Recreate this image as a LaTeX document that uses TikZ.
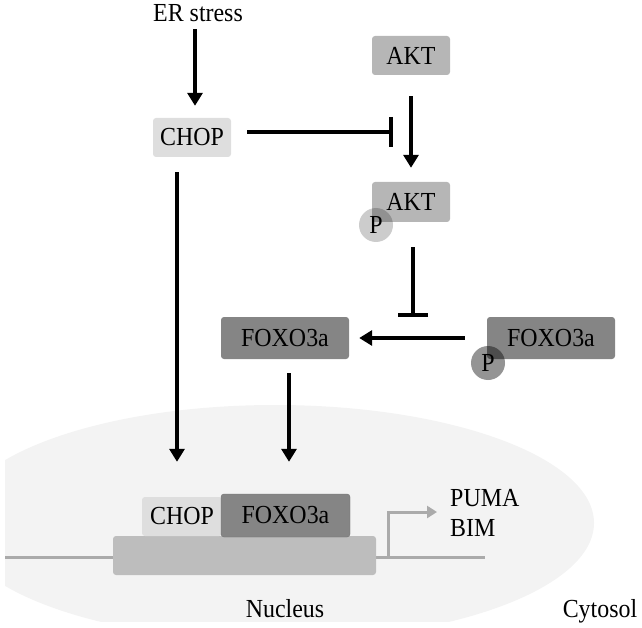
\documentclass[tikz,border=0pt]{standalone}
\usepackage{fontspec}
\setmainfont[FakeStretch=0.92]{Liberation Serif}
\usetikzlibrary{arrows.meta}
\newcommand{\fsz}{\fontsize{26}{30}\selectfont}
\definecolor{nucfill}{HTML}{F3F3F3}
\definecolor{chopc}{HTML}{DEDEDE}
\definecolor{aktc}{HTML}{B6B6B6}
\definecolor{foxoc}{HTML}{858585}
\definecolor{genec}{HTML}{BDBDBD}
\definecolor{dnac}{HTML}{AAAAAA}
\tikzset{
  box/.style={rounded corners=3pt, inner sep=0pt, font=\fsz, text=black},
  lbl/.style={inner sep=0pt, font=\fsz, text=black},
  act/.style={line width=3.5pt, -{Triangle[length=13pt,width=15pt]}},
  inh/.style={line width=3.5pt, -{Bar[width=30pt,line width=4pt]}},
  phos/.style={circle, inner sep=0pt, minimum size=34pt, font=\fsz},
}
\begin{document}
\begin{tikzpicture}[x=1pt,y=-1pt]
\useasboundingbox (0,0) rectangle (642,628);
% nucleus
\begin{scope}
  \clip (5,0) rectangle (642,621);
  \fill[nucfill] (275,523) ellipse [x radius=319pt, y radius=118pt];
\end{scope}
% upper nodes
\node[lbl, anchor=base] (er) at (198,22) {ER stress};
\node[box, fill=chopc, minimum width=78pt, minimum height=39pt] (chop) at (192,137.5) {CHOP};
\node[box, fill=aktc, minimum width=78pt, minimum height=39pt] (akt1) at (411,55.5) {AKT};
\node[box, fill=aktc, minimum width=78pt, minimum height=40pt] (akt2) at (411,202) {AKT};
\node[phos, fill=black, fill opacity=0.2, text opacity=1] (p1) at (376,225) {P};
\node[box, fill=foxoc, minimum width=128pt, minimum height=42pt] (foxoL) at (285,338) {FOXO3a};
\node[box, fill=foxoc, minimum width=128pt, minimum height=42pt] (foxoR) at (551,338) {FOXO3a};
\node[phos, fill=black, fill opacity=0.42, text opacity=1] (p2) at (488,363) {P};
% DNA and gene
\coordinate (dnaL) at (5,557);
\coordinate (dnaR) at (485,557);
\draw[dnac, line width=3pt] (dnaL) -- (dnaR);
\node[box, fill=genec, minimum width=263pt, minimum height=39pt] (gene) at (244.5,555.5) {};
\node[box, fill=chopc, minimum width=80pt, minimum height=39pt] (chopN) at (182,516.5) {CHOP};
\node[box, fill=foxoc, draw=black!55, line width=0.4pt, minimum width=129pt, minimum height=43pt] (foxoN) at (285.5,515.5) {FOXO3a};
\coordinate (tss) at (388,557);
\coordinate (tssend) at (437,512);
\draw[dnac, line width=3pt, -{Triangle[length=10pt,width=12pt]}] (tss) |- (tssend);
\node[lbl, anchor=base west] (puma) at (450,506) {PUMA};
\node[lbl, anchor=base west] (bim) at (450,536) {BIM};
\node[lbl, anchor=base] (nuc) at (285,617) {Nucleus};
\node[lbl, anchor=base] (cyt) at (600,617) {Cytosol};
% connectors
\coordinate (aktarrow) at (411,132);
\coordinate (foxoarrow) at (413,338);
\draw[act, shorten <=7pt, shorten >=12pt] ([xshift=-3pt]er.south) -- ([xshift=3pt]chop.north);
\draw[inh, shorten <=16pt, shorten >=18pt] ([yshift=5.5pt]chop.east) -- (aktarrow);
\draw[act, shorten <=21pt, shorten >=14pt] (akt1.south) -- (akt2.north);
\draw[inh, shorten <=25pt, shorten >=21pt] ([xshift=2pt]akt2.south) -- (foxoarrow);
\draw[act, shorten <=22pt, shorten >=10pt] (foxoR.west) -- (foxoL.east);
\draw[act, shorten <=15pt, shorten >=35pt] ([xshift=-15pt]chop.south) -- ([xshift=-5pt]chopN.north);
\draw[act, shorten <=14pt, shorten >=32pt] ([xshift=4pt]foxoL.south) -- ([xshift=3.5pt]foxoN.north);
\end{tikzpicture}
\end{document}
